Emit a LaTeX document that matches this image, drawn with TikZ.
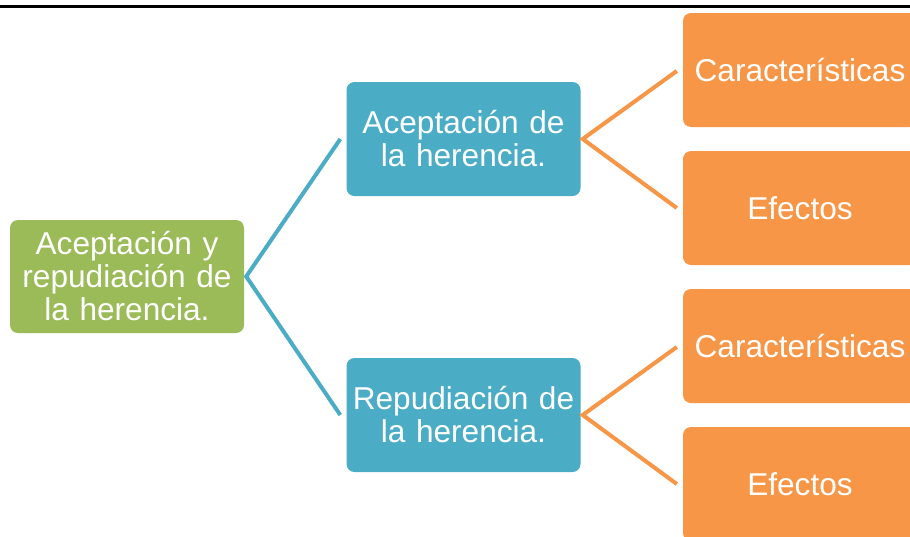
\documentclass[tikz,border=0pt]{standalone}
\usepackage{fontspec}
\setmainfont{Liberation Sans}
\definecolor{sgreen}{HTML}{9BBB59}
\definecolor{sblue}{HTML}{4BACC6}
\definecolor{sorange}{HTML}{F79646}
\tikzset{
  box/.style={rectangle, rounded corners=8pt, minimum width=234pt, minimum height=114pt,
    text width=228pt, align=center, text=white, inner sep=0pt,
    font=\fontsize{31.6}{33}\selectfont},
  gbox/.style={box, fill=sgreen, minimum height=113pt},
  bbox/.style={box, fill=sblue},
  obox/.style={box, fill=sorange},
  bconn/.style={draw=sblue, line width=4pt, miter limit=10},
  oconn/.style={draw=sorange, line width=4pt, miter limit=10},
}
\begin{document}
\begin{tikzpicture}[x=1pt,y=-1pt]
\useasboundingbox (0,0) rectangle (910,536);
\clip (0,0) rectangle (910,536);
\fill[white] (0,0) rectangle (910,536);
\coordinate (tl) at (0,6.5);
\coordinate (tr) at (910,6.5);
\draw[line width=3pt, black] (tl) -- (tr);
\node[gbox] (g) at (127,276.5) {Aceptación y repudiación de la herencia.};
\node[bbox] (b1) at (463.5,139) {Aceptación de\\ la herencia.};
\node[bbox] (b2) at (463.5,415) {Repudiación de\\ la herencia.};
\node[obox] (o1) at (800,70) {Características};
\node[obox] (o2) at (800,208) {Efectos};
\node[obox] (o3) at (800,346) {Características};
\node[obox] (o4) at (800,484) {Efectos};
\draw[bconn] ([xshift=-6pt]b1.west) -- ([xshift=2pt]g.east) -- ([xshift=-6pt]b2.west);
\draw[oconn] ([xshift=-6pt,yshift=-1pt]o1.west) -- ([xshift=2pt]b1.east) -- ([xshift=-6pt]o2.west);
\draw[oconn] ([xshift=-6pt,yshift=-1pt]o3.west) -- ([xshift=2pt]b2.east) -- ([xshift=-6pt]o4.west);
\end{tikzpicture}
\end{document}
